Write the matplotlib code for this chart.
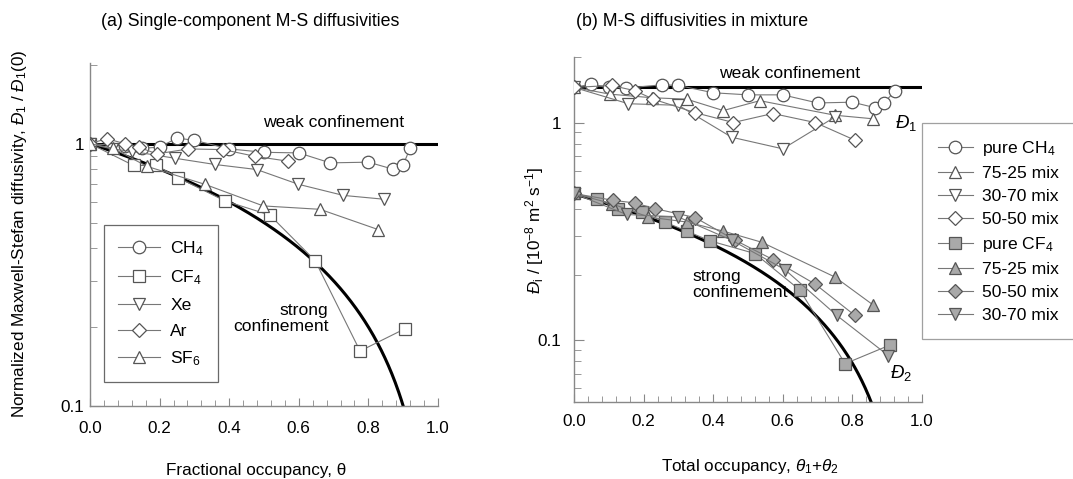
import numpy as np
import matplotlib
matplotlib.use("Agg")
import matplotlib.pyplot as plt
from matplotlib.ticker import LogLocator, NullFormatter, FixedLocator, MultipleLocator, FuncFormatter

plt.rcParams['font.family'] = ['Liberation Sans', 'DejaVu Sans']
plt.rcParams['mathtext.fontset'] = 'custom'
plt.rcParams['mathtext.rm'] = 'Liberation Sans'
plt.rcParams['mathtext.it'] = 'Liberation Sans:italic'
plt.rcParams['mathtext.default'] = 'regular'

# ---------------- Panel (a) data ----------------
a_ch4_x = [0.0, 0.10, 0.15, 0.20, 0.25, 0.30, 0.40, 0.50, 0.60, 0.69, 0.80, 0.87, 0.90, 0.92]
a_ch4_y = [1.0, 0.98, 0.96, 0.97, 1.05, 1.03, 0.955, 0.927, 0.922, 0.845, 0.85, 0.80, 0.83, 0.963]
a_cf4_x = [0.0, 0.125, 0.19, 0.254, 0.388, 0.517, 0.647, 0.776, 0.905]
a_cf4_y = [1.0, 0.826, 0.826, 0.741, 0.605, 0.534, 0.358, 0.162, 0.197]
a_xe_x = [0.0, 0.062, 0.12, 0.244, 0.359, 0.479, 0.599, 0.728, 0.845]
a_xe_y = [1.0, 0.955, 0.935, 0.88, 0.833, 0.797, 0.70, 0.635, 0.614]
a_ar_x = [0.0, 0.048, 0.10, 0.14, 0.192, 0.283, 0.383, 0.474, 0.57]
a_ar_y = [1.0, 1.045, 1.0, 0.97, 0.914, 0.955, 0.949, 0.895, 0.857]
a_sf6_x = [0.0, 0.067, 0.163, 0.33, 0.498, 0.661, 0.829]
a_sf6_y = [1.0, 0.96, 0.82, 0.70, 0.579, 0.562, 0.47]
a_labels = ['CH$_4$', 'CF$_4$', 'Xe', 'Ar', 'SF$_6$']

# ---------------- Panel (b) data ----------------
b_ch4_x = [0.0, 0.05, 0.10, 0.15, 0.252, 0.30, 0.40, 0.50, 0.60, 0.70, 0.80, 0.865, 0.89, 0.922]
b_ch4_y = [1.45, 1.50, 1.45, 1.44, 1.49, 1.48, 1.37, 1.34, 1.34, 1.23, 1.24, 1.17, 1.23, 1.39]
b_m7525_1_x = [0.0, 0.103, 0.223, 0.324, 0.429, 0.534, 0.75, 0.86]
b_m7525_1_y = [1.45, 1.35, 1.30, 1.28, 1.135, 1.26, 1.08, 1.04]
b_m3070_1_x = [0.0, 0.156, 0.30, 0.453, 0.60, 0.75]
b_m3070_1_y = [1.45, 1.22, 1.20, 0.856, 0.757, 1.06]
b_m5050_1_x = [0.0, 0.108, 0.175, 0.228, 0.348, 0.458, 0.571, 0.693, 0.807]
b_m5050_1_y = [1.45, 1.48, 1.40, 1.28, 1.11, 1.0, 1.10, 1.0, 0.83]

b_cf4_x = [0.0, 0.065, 0.127, 0.194, 0.261, 0.324, 0.391, 0.52, 0.649, 0.779, 0.908]
b_cf4_y = [0.472, 0.447, 0.40, 0.388, 0.349, 0.317, 0.286, 0.25, 0.17, 0.078, 0.095]
b_m7525_2_x = [0.0, 0.108, 0.214, 0.324, 0.429, 0.539, 0.75, 0.86]
b_m7525_2_y = [0.472, 0.424, 0.368, 0.349, 0.317, 0.282, 0.195, 0.145]
b_m5050_2_x = [0.0, 0.113, 0.175, 0.233, 0.348, 0.463, 0.573, 0.693, 0.807]
b_m5050_2_y = [0.472, 0.439, 0.427, 0.402, 0.366, 0.288, 0.234, 0.181, 0.130]
b_m3070_2_x = [0.0, 0.151, 0.30, 0.453, 0.606, 0.755, 0.903]
b_m3070_2_y = [0.472, 0.378, 0.368, 0.288, 0.211, 0.130, 0.085]
b_labels = ['pure CH$_4$', '75-25 mix', '30-70 mix', '50-50 mix',
            'pure CF$_4$', '75-25 mix', '50-50 mix', '30-70 mix']

# model lines (weak / strong confinement)
a_weak = 1.0
a_strong_d0, a_strong_sat = 1.0, 1.0
b_weak = 1.45
b_strong_d0, b_strong_sat = 0.47, 0.96

EDGE = '#555555'
LINE = '#777777'
FILL = '#a9a9a9'
SPINE = '#888888'
FS = 12.3
TFS = 12.8

fig = plt.figure(figsize=(10.73, 4.79), dpi=100)
axA = fig.add_axes([90/1073, (479-406)/479, 348/1073, 343/479])
axB = fig.add_axes([574/1073, (479-402)/479, 348/1073, 345/479])


def style(ax, ymin, ymax, xpad, ypad):
    ax.set_yscale('log')
    ax.set_xlim(0, 1.0)
    ax.set_ylim(ymin, ymax)
    for s in ['top', 'right']:
        ax.spines[s].set_visible(False)
    for s in ['left', 'bottom']:
        ax.spines[s].set_color(SPINE)
        ax.spines[s].set_linewidth(1.0)
    ax.xaxis.set_major_locator(MultipleLocator(0.2))
    ax.xaxis.set_minor_locator(MultipleLocator(0.04))
    ax.yaxis.set_major_locator(FixedLocator([0.1, 1.0]))
    ax.yaxis.set_minor_locator(LogLocator(base=10, subs=np.arange(2, 10)))
    ax.yaxis.set_minor_formatter(NullFormatter())
    ax.yaxis.set_major_formatter(FuncFormatter(lambda v, p: '1' if v >= 1 else '0.1'))
    ax.xaxis.set_major_formatter(FuncFormatter(lambda v, p: f'{v:.1f}'))
    ax.tick_params(which='both', direction='in', color=SPINE, labelsize=FS)
    ax.tick_params(axis='x', which='major', length=6, pad=xpad)
    ax.tick_params(axis='x', which='minor', length=4)
    ax.tick_params(axis='y', which='major', length=7, pad=ypad)
    ax.tick_params(axis='y', which='minor', length=5)


style(axA, 0.1, 2.03, 11, 4)
style(axB, 0.052, 2.0, 8.5, 9)

mk = dict(markersize=9, markeredgecolor=EDGE, markeredgewidth=0.9, color=LINE, linewidth=0.8)

# ----- panel (a) -----
xs = np.linspace(0, 1, 400)
axA.plot([0, 1], [a_weak, a_weak], color='black', lw=2.2, zorder=2)
axA.plot(xs, a_strong_d0 * (1 - xs / a_strong_sat), color='black', lw=2.2, zorder=2)
hA = []
for x, y, m in [(a_ch4_x, a_ch4_y, 'o'), (a_cf4_x, a_cf4_y, 's'), (a_xe_x, a_xe_y, 'v'),
                (a_ar_x, a_ar_y, 'D'), (a_sf6_x, a_sf6_y, '^')]:
    ms = 7 if m == 'D' else 9
    h, = axA.plot(x, y, marker=m, markerfacecolor='white', zorder=3, **{**mk, 'markersize': ms})
    hA.append(h)
legA = axA.legend(hA, a_labels, loc='lower left', bbox_to_anchor=(0.04, 0.07),
                  borderaxespad=0, fancybox=False, edgecolor='#444444', fontsize=FS + 0.3,
                  handlelength=2.4, labelspacing=0.6, borderpad=0.8, handletextpad=0.6)
legA.get_frame().set_linewidth(0.9)
axA.text(0.7, 1.13, 'weak confinement', fontsize=FS + 0.3, ha='center', va='bottom')
axA.text(0.685, 0.215, 'strong\nconfinement', fontsize=FS + 0.3, ha='right', va='center',
         linespacing=1.05)

# ----- panel (b) -----
axB.plot([0, 1], [b_weak, b_weak], color='black', lw=2.2, zorder=2)
xs2 = np.linspace(0, 1, 400)
ys2 = b_strong_d0 * (1 - xs2 / b_strong_sat)
ys2 = np.where(ys2 > 0, ys2, np.nan)
axB.plot(xs2, ys2, color='black', lw=2.2, zorder=2)
hB = []
for x, y, m, fc in [(b_ch4_x, b_ch4_y, 'o', 'white'), (b_m7525_1_x, b_m7525_1_y, '^', 'white'),
                    (b_m3070_1_x, b_m3070_1_y, 'v', 'white'), (b_m5050_1_x, b_m5050_1_y, 'D', 'white'),
                    (b_cf4_x, b_cf4_y, 's', FILL), (b_m7525_2_x, b_m7525_2_y, '^', FILL),
                    (b_m5050_2_x, b_m5050_2_y, 'D', FILL), (b_m3070_2_x, b_m3070_2_y, 'v', FILL)]:
    ms = 7 if m == 'D' else 9
    h, = axB.plot(x, y, marker=m, markerfacecolor=fc, zorder=3, **{**mk, 'markersize': ms})
    hB.append(h)
legB = axB.legend(hB, b_labels, loc='upper left', bbox_to_anchor=(1.0, 0.809),
                  borderaxespad=0, fancybox=False, edgecolor='#888888', fontsize=FS + 0.3,
                  handlelength=2.0, labelspacing=0.45, borderpad=0.9, handletextpad=0.5)
legB.get_frame().set_linewidth(0.9)
axB.text(0.62, 1.55, 'weak confinement', fontsize=FS + 0.3, ha='center', va='bottom')
axB.text(0.34, 0.18, 'strong\nconfinement', fontsize=FS + 0.3, ha='left', va='center',
         linespacing=1.05)
axB.text(0.955, 1.0, r'$\mathit{Đ}_1$', fontsize=FS + 1, ha='center', va='center')
axB.text(0.94, 0.071, r'$\mathit{Đ}_2$', fontsize=FS + 1, ha='center', va='center')

# ----- labels -----
fig.text(250/1073, 1 - 22/479, '(a) Single-component M-S diffusivities', fontsize=TFS,
         ha='center', va='center')
fig.text(692/1073, 1 - 22/479, '(b) M-S diffusivities in mixture', fontsize=TFS,
         ha='center', va='center')
fig.text(256/1073, 1 - 470/479, 'Fractional occupancy, θ', fontsize=FS, ha='center', va='center')
fig.text(750/1073, 1 - 467/479, r'Total occupancy, $\mathit{θ}_1$+$\mathit{θ}_2$', fontsize=FS,
         ha='center', va='center')
fig.text(20/1073, 1 - 234/479, r'Normalized Maxwell-Stefan diffusivity, $\mathit{Đ}_1$ / $\mathit{Đ}_1$(0)',
         fontsize=FS, rotation=90, ha='center', va='center')
fig.text(535/1073, 1 - 230/479, r'$\mathit{Đ}_i$ / [10$^{-8}$ m$^2$ s$^{-1}$]',
         fontsize=FS, rotation=90, ha='center', va='center')

fig.savefig('out.png', dpi=100)
